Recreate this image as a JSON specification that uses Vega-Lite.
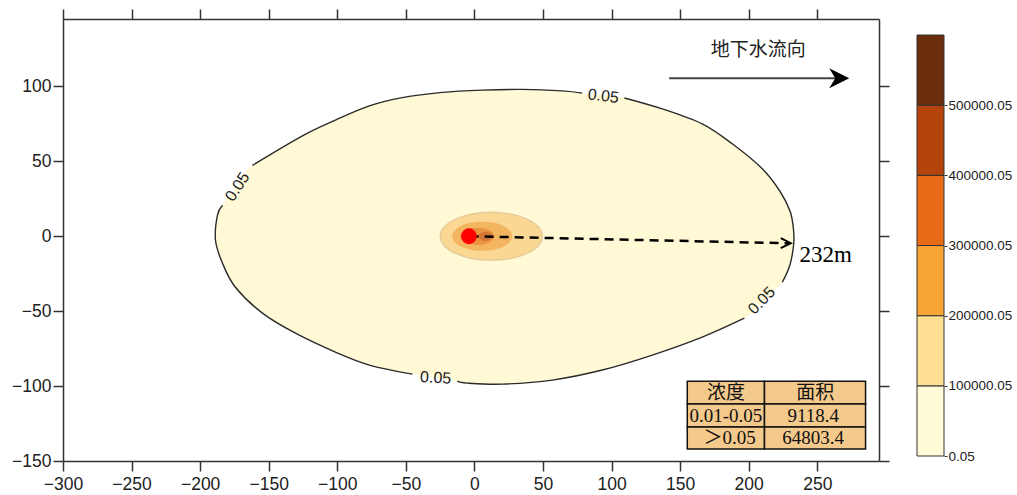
{
  "$schema": "https://vega.github.io/schema/vega-lite/v6.json",
  "background": "white",
  "padding": {"left": 11, "top": 8, "right": 0, "bottom": 0},
  "config": {
    "view": {"stroke": null},
    "font": "Liberation Sans",
    "concat": {"spacing": 26},
    "axis": {"grid": false, "domainColor": "#333", "domainWidth": 1.5, "tickColor": "#333", "tickWidth": 1.5, "tickSize": 10, "labelFont": "Liberation Sans", "labelFontSize": 17.5, "labelColor": "#222", "labelFlush": false, "labelOverlap": false}
  },
  "datasets": {
    "outer": [
      {"i":0,"s":1,"x":-161.9,"y":47.3},{"i":1,"s":1,"x":-125.4,"y":67},{"i":2,"s":1,"x":-101.4,"y":77.5},{"i":3,"s":1,"x":-76.6,"y":87},{"i":4,"s":1,"x":-52.6,"y":92.5},{"i":5,"s":1,"x":-23.4,"y":96},{"i":6,"s":1,"x":5.8,"y":97.5},{"i":7,"s":1,"x":34.9,"y":98},{"i":8,"s":1,"x":64.1,"y":97},{"i":9,"s":1,"x":78.6,"y":95.5},
      {"i":10,"s":0,"x":94,"y":94},
      {"i":11,"s":2,"x":109.3,"y":92.3},{"i":12,"s":2,"x":137,"y":85},{"i":13,"s":2,"x":166.1,"y":75},{"i":14,"s":2,"x":188,"y":61.7},{"i":15,"s":2,"x":209.9,"y":45},{"i":16,"s":2,"x":223,"y":29.7},{"i":17,"s":2,"x":230.3,"y":16.3},{"i":18,"s":2,"x":232.7,"y":4},{"i":19,"s":2,"x":232.7,"y":-6},{"i":20,"s":2,"x":230,"y":-19.3},{"i":21,"s":2,"x":224.5,"y":-30.7},
      {"i":22,"s":0,"x":211,"y":-43},
      {"i":23,"s":3,"x":196.8,"y":-54.7},{"i":24,"s":3,"x":166.1,"y":-67.3},{"i":25,"s":3,"x":129.7,"y":-79.3},{"i":26,"s":3,"x":93.2,"y":-89.3},{"i":27,"s":3,"x":56.8,"y":-96},{"i":28,"s":3,"x":20.3,"y":-98.7},{"i":29,"s":3,"x":-5.2,"y":-98},{"i":30,"s":3,"x":-12.4,"y":-96.7},
      {"i":31,"s":0,"x":-28,"y":-94.5},
      {"i":32,"s":4,"x":-45.2,"y":-92},{"i":33,"s":4,"x":-76.6,"y":-86},{"i":34,"s":4,"x":-101.4,"y":-77.3},{"i":35,"s":4,"x":-130.5,"y":-64.7},{"i":36,"s":4,"x":-154.6,"y":-51.3},{"i":37,"s":4,"x":-174.3,"y":-34},{"i":38,"s":4,"x":-183.7,"y":-18},{"i":39,"s":4,"x":-188.8,"y":-2.7},{"i":40,"s":4,"x":-187.4,"y":14},{"i":41,"s":4,"x":-183.7,"y":20.7},
      {"i":42,"s":0,"x":-173,"y":33}
    ],
    "e1": [
      {"i":0,"x":49.5,"y":0},{"i":1,"x":46.7,"y":6.1},{"i":2,"x":38.6,"y":11.3},{"i":3,"x":26.5,"y":14.8},{"i":4,"x":12.3,"y":16},{"i":5,"x":-1.9,"y":14.8},{"i":6,"x":-14,"y":11.3},{"i":7,"x":-22.1,"y":6.1},{"i":8,"x":-24.9,"y":0},{"i":9,"x":-22.1,"y":-6.1},{"i":10,"x":-14,"y":-11.3},{"i":11,"x":-1.9,"y":-14.8},{"i":12,"x":12.3,"y":-16},{"i":13,"x":26.5,"y":-14.8},{"i":14,"x":38.6,"y":-11.3},{"i":15,"x":46.7,"y":-6.1}
    ],
    "e2": [
      {"i":0,"x":27.6,"y":0},{"i":1,"x":25.9,"y":3.7},{"i":2,"x":21.2,"y":6.9},{"i":3,"x":14.1,"y":9},{"i":4,"x":5.7,"y":9.7},{"i":5,"x":-2.7,"y":9},{"i":6,"x":-9.8,"y":6.9},{"i":7,"x":-14.5,"y":3.7},{"i":8,"x":-16.2,"y":0},{"i":9,"x":-14.5,"y":-3.7},{"i":10,"x":-9.8,"y":-6.9},{"i":11,"x":-2.7,"y":-9},{"i":12,"x":5.7,"y":-9.7},{"i":13,"x":14.1,"y":-9},{"i":14,"x":21.2,"y":-6.9},{"i":15,"x":25.9,"y":-3.7}
    ],
    "e3": [
      {"i":0,"x":14.5,"y":0},{"i":1,"x":13.6,"y":2.2},{"i":2,"x":10.9,"y":4},{"i":3,"x":6.8,"y":5.3},{"i":4,"x":2.1,"y":5.7},{"i":5,"x":-2.6,"y":5.3},{"i":6,"x":-6.7,"y":4},{"i":7,"x":-9.4,"y":2.2},{"i":8,"x":-10.3,"y":0},{"i":9,"x":-9.4,"y":-2.2},{"i":10,"x":-6.7,"y":-4},{"i":11,"x":-2.6,"y":-5.3},{"i":12,"x":2.1,"y":-5.7},{"i":13,"x":6.8,"y":-5.3},{"i":14,"x":10.9,"y":-4},{"i":15,"x":13.6,"y":-2.2}
    ],
    "e4": [
      {"i":0,"x":13,"y":0},{"i":1,"x":11.5,"y":2.1},{"i":2,"x":8,"y":3},{"i":3,"x":4.5,"y":2.1},{"i":4,"x":3,"y":0},{"i":5,"x":4.5,"y":-2.1},{"i":6,"x":8,"y":-3},{"i":7,"x":11.5,"y":-2.1}
    ],
    "cells": [
      {"x1":155.2,"x2":211.5,"y1":-96.7,"y2":-112},{"x1":211.5,"x2":285.2,"y1":-96.7,"y2":-112},
      {"x1":155.2,"x2":211.5,"y1":-112,"y2":-127.3},{"x1":211.5,"x2":285.2,"y1":-112,"y2":-127.3},
      {"x1":155.2,"x2":211.5,"y1":-127.3,"y2":-142},{"x1":211.5,"x2":285.2,"y1":-127.3,"y2":-142}
    ],
    "ctext": [
      {"x":183.4,"y":-104.3,"t":"浓度"},{"x":248.5,"y":-104.3,"t":"面积"},
      {"x":183.4,"y":-119.7,"t":"0.01-0.05"},{"x":247,"y":-119.7,"t":"9118.4"},
      {"x":186,"y":-134.7,"t":"＞0.05"},{"x":247,"y":-134.7,"t":"64803.4"}
    ]
  },
  "hconcat": [
    {
      "width": 816,
      "height": 442,
      "encoding": {
        "x": {"field": "x", "type": "quantitative", "scale": {"domain": [-300, 295], "nice": false, "zero": false}, "axis": null},
        "y": {"field": "y", "type": "quantitative", "scale": {"domain": [-150, 145], "nice": false, "zero": false}, "axis": null}
      },
      "resolve": {"axis": {"x": "independent", "y": "independent"}},
      "layer": [
        {
          "data": {"name": "outer"},
          "mark": {"type": "line", "fill": "#FFF9D5", "strokeOpacity": 0, "interpolate": "cardinal-closed"},
          "encoding": {
            "x": {"field": "x", "type": "quantitative", "scale": {"domain": [-300, 295], "nice": false, "zero": false}, "axis": {"orient": "bottom", "title": null, "values": [-300,-250,-200,-150,-100,-50,0,50,100,150,200,250], "labelPadding": 4}},
            "y": {"field": "y", "type": "quantitative", "scale": {"domain": [-150, 145], "nice": false, "zero": false}, "axis": {"orient": "left", "title": null, "values": [-150,-100,-50,0,50,100], "labelPadding": 2}},
            "order": {"field": "i", "type": "quantitative"}
          }
        },
        {
          "data": {"name": "outer"},
          "transform": [{"filter": "datum.s > 0"}],
          "mark": {"type": "line", "stroke": "#2b2b2b", "strokeWidth": 1.4, "interpolate": "cardinal"},
          "encoding": {
            "x": {"field": "x", "type": "quantitative", "scale": {"domain": [-300, 295], "nice": false, "zero": false}, "axis": {"orient": "top", "title": null, "labels": false, "values": [-300,-250,-200,-150,-100,-50,0,50,100,150,200,250]}},
            "y": {"field": "y", "type": "quantitative", "scale": {"domain": [-150, 145], "nice": false, "zero": false}, "axis": {"orient": "right", "title": null, "labels": false, "values": [-150,-100,-50,0,50,100]}},
            "detail": {"field": "s", "type": "nominal"},
            "order": {"field": "i", "type": "quantitative"}
          }
        },
        {"data": {"values": [{"x": 94, "y": 93.5, "t": "0.05"}]}, "mark": {"type": "text", "fontSize": 16, "color": "#222", "angle": 7}, "encoding": {"text": {"field": "t"}}},
        {"data": {"values": [{"x": 209.5, "y": -43, "t": "0.05"}]}, "mark": {"type": "text", "fontSize": 16, "color": "#222", "angle": -46}, "encoding": {"text": {"field": "t"}}},
        {"data": {"values": [{"x": -28.3, "y": -94.5, "t": "0.05"}]}, "mark": {"type": "text", "fontSize": 16, "color": "#222", "angle": 3}, "encoding": {"text": {"field": "t"}}},
        {"data": {"values": [{"x": -172.8, "y": 33, "t": "0.05"}]}, "mark": {"type": "text", "fontSize": 16, "color": "#222", "angle": -57}, "encoding": {"text": {"field": "t"}}},
        {"data": {"name": "e1"}, "mark": {"type": "line", "fill": "#FAD793", "stroke": "#E6CB9A", "strokeWidth": 1.5, "interpolate": "cardinal-closed"}, "encoding": {"order": {"field": "i", "type": "quantitative"}}},
        {"data": {"name": "e2"}, "mark": {"type": "line", "fill": "#F4B560", "strokeOpacity": 0, "interpolate": "cardinal-closed"}, "encoding": {"order": {"field": "i", "type": "quantitative"}}},
        {"data": {"name": "e3"}, "mark": {"type": "line", "fill": "#EA9442", "strokeOpacity": 0, "interpolate": "cardinal-closed"}, "encoding": {"order": {"field": "i", "type": "quantitative"}}},
        {"data": {"name": "e4"}, "mark": {"type": "line", "fill": "#D27633", "strokeOpacity": 0, "interpolate": "cardinal-closed"}, "encoding": {"order": {"field": "i", "type": "quantitative"}}},
        {"data": {"values": [{"i": 0, "x": -3.5, "y": 0}, {"i": 1, "x": 230, "y": -4.7}]}, "mark": {"type": "line", "stroke": "#000", "strokeWidth": 2.5, "strokeDash": [9, 6]}, "encoding": {"order": {"field": "i", "type": "quantitative"}}},
        {"data": {"values": [{"x": -4, "y": 0}]}, "mark": {"type": "point", "shape": "circle", "filled": true, "fill": "#FF0000", "opacity": 1, "size": 250}},
        {"data": {"values": [{"x": 227, "y": -4.6}]}, "mark": {"type": "point", "shape": "M-1,-1L1,0L-1,1", "filled": false, "stroke": "#000", "strokeWidth": 2, "opacity": 1, "size": 100}},
        {"data": {"values": [{"x": 237, "y": -12.5, "t": "232m"}]}, "mark": {"type": "text", "align": "left", "baseline": "middle", "font": "Liberation Serif", "fontSize": 23, "color": "#000"}, "encoding": {"text": {"field": "t"}}},
        {
          "data": {"name": "cells"},
          "mark": {"type": "rect", "fill": "#F4C98C", "stroke": "#111", "strokeWidth": 1.5},
          "encoding": {
            "x": {"field": "x1", "type": "quantitative", "scale": {"domain": [-300, 295], "nice": false, "zero": false}, "axis": null},
            "x2": {"field": "x2"},
            "y": {"field": "y1", "type": "quantitative", "scale": {"domain": [-150, 145], "nice": false, "zero": false}, "axis": null},
            "y2": {"field": "y2"}
          }
        },
        {"data": {"name": "ctext"}, "mark": {"type": "text", "font": "Liberation Serif, Noto Sans CJK SC", "fontSize": 19, "color": "#111", "baseline": "middle"}, "encoding": {"text": {"field": "t"}}},
        {"data": {"values": [{"x": 206.9, "y": 124, "t": "地下水流向"}]}, "mark": {"type": "text", "font": "Noto Sans CJK SC", "fontSize": 19, "color": "#222", "baseline": "middle"}, "encoding": {"text": {"field": "t"}}},
        {"data": {"values": [{"i": 0, "x": 142, "y": 105.5}, {"i": 1, "x": 268, "y": 105.5}]}, "mark": {"type": "line", "stroke": "#444", "strokeWidth": 2}, "encoding": {"order": {"field": "i", "type": "quantitative"}}},
        {"data": {"values": [{"x": 266, "y": 105.5}]}, "mark": {"type": "point", "shape": "M-1,-1L1,0L-1,1L-0.4,0Z", "filled": true, "fill": "#000", "opacity": 1, "size": 400}}
      ]
    },
    {
      "width": 27,
      "height": 437,
      "data": {"values": [
        {"band": "b1", "lo": 0.05, "hi": 100000.05},
        {"band": "b2", "lo": 100000.05, "hi": 200000.05},
        {"band": "b3", "lo": 200000.05, "hi": 300000.05},
        {"band": "b4", "lo": 300000.05, "hi": 400000.05},
        {"band": "b5", "lo": 400000.05, "hi": 500000.05},
        {"band": "b6", "lo": 500000.05, "hi": 600000.05}
      ]},
      "mark": {"type": "rect", "stroke": "#333", "strokeWidth": 1},
      "encoding": {
        "x": {"datum": 0, "type": "quantitative", "scale": {"domain": [0, 1], "nice": false}, "axis": null},
        "x2": {"datum": 1},
        "y": {"field": "lo", "type": "quantitative", "scale": {"domain": [0.05, 622850], "nice": false, "zero": false}, "axis": {"orient": "right", "title": null, "values": [0.05, 100000.05, 200000.05, 300000.05, 400000.05, 500000.05], "format": ".2f", "domain": false, "tickSize": 3, "tickWidth": 1, "labelPadding": 1, "labelFontSize": 13.5, "labelColor": "#222"}},
        "y2": {"field": "hi"},
        "color": {"field": "band", "type": "ordinal", "scale": {"domain": ["b1","b2","b3","b4","b5","b6"], "range": ["#FFFBD8","#FEDF94","#F8A538","#E86C17","#B4430C","#6A2E0C"]}, "legend": null}
      }
    }
  ]
}
